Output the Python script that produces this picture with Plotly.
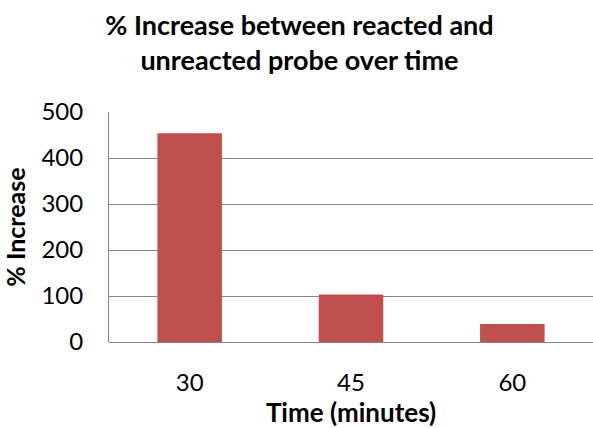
import plotly.graph_objects as go

categories = ["30", "45", "60"]
values = [454, 103, 39]
y_ticks = [0, 100, 200, 300, 400, 500]

font_family = "Lato, Calibri, Carlito, sans-serif"

fig = go.Figure(go.Bar(x=categories, y=values, marker=dict(color="#C0504D", line=dict(width=0))))

fig.update_layout(
    width=593, height=428,
    margin=dict(l=109, r=0, t=112, b=86),
    paper_bgcolor="white", plot_bgcolor="white",
    bargap=0.6,
    showlegend=False,
    font=dict(family=font_family, color="black"),
    title=dict(
        text="<b>% Increase between reacted and<br>unreacted probe over time</b>",
        x=0.505, xanchor="center", yref="container", y=0.918, yanchor="top",
        font=dict(size=27, family=font_family, color="black"),
    ),
)
fig.update_xaxes(
    type="category",
    tickfont=dict(size=24),
    ticklabelstandoff=24,
    title=dict(text="<b>Time (minutes)</b>", font=dict(size=26), standoff=2),
    showline=False, ticks="",
)
fig.update_yaxes(
    range=[0, 500], tickvals=y_ticks,
    tickfont=dict(size=24),
    ticklabelstandoff=20,
    title=dict(text="<b>% Increase</b>", font=dict(size=25), standoff=10),
    showgrid=True, gridcolor="#868686", gridwidth=1,
    showline=True, linecolor="#868686", linewidth=1,
    ticks="", zeroline=True, zerolinecolor="#868686", zerolinewidth=1,
)

fig.write_html("out.html")
